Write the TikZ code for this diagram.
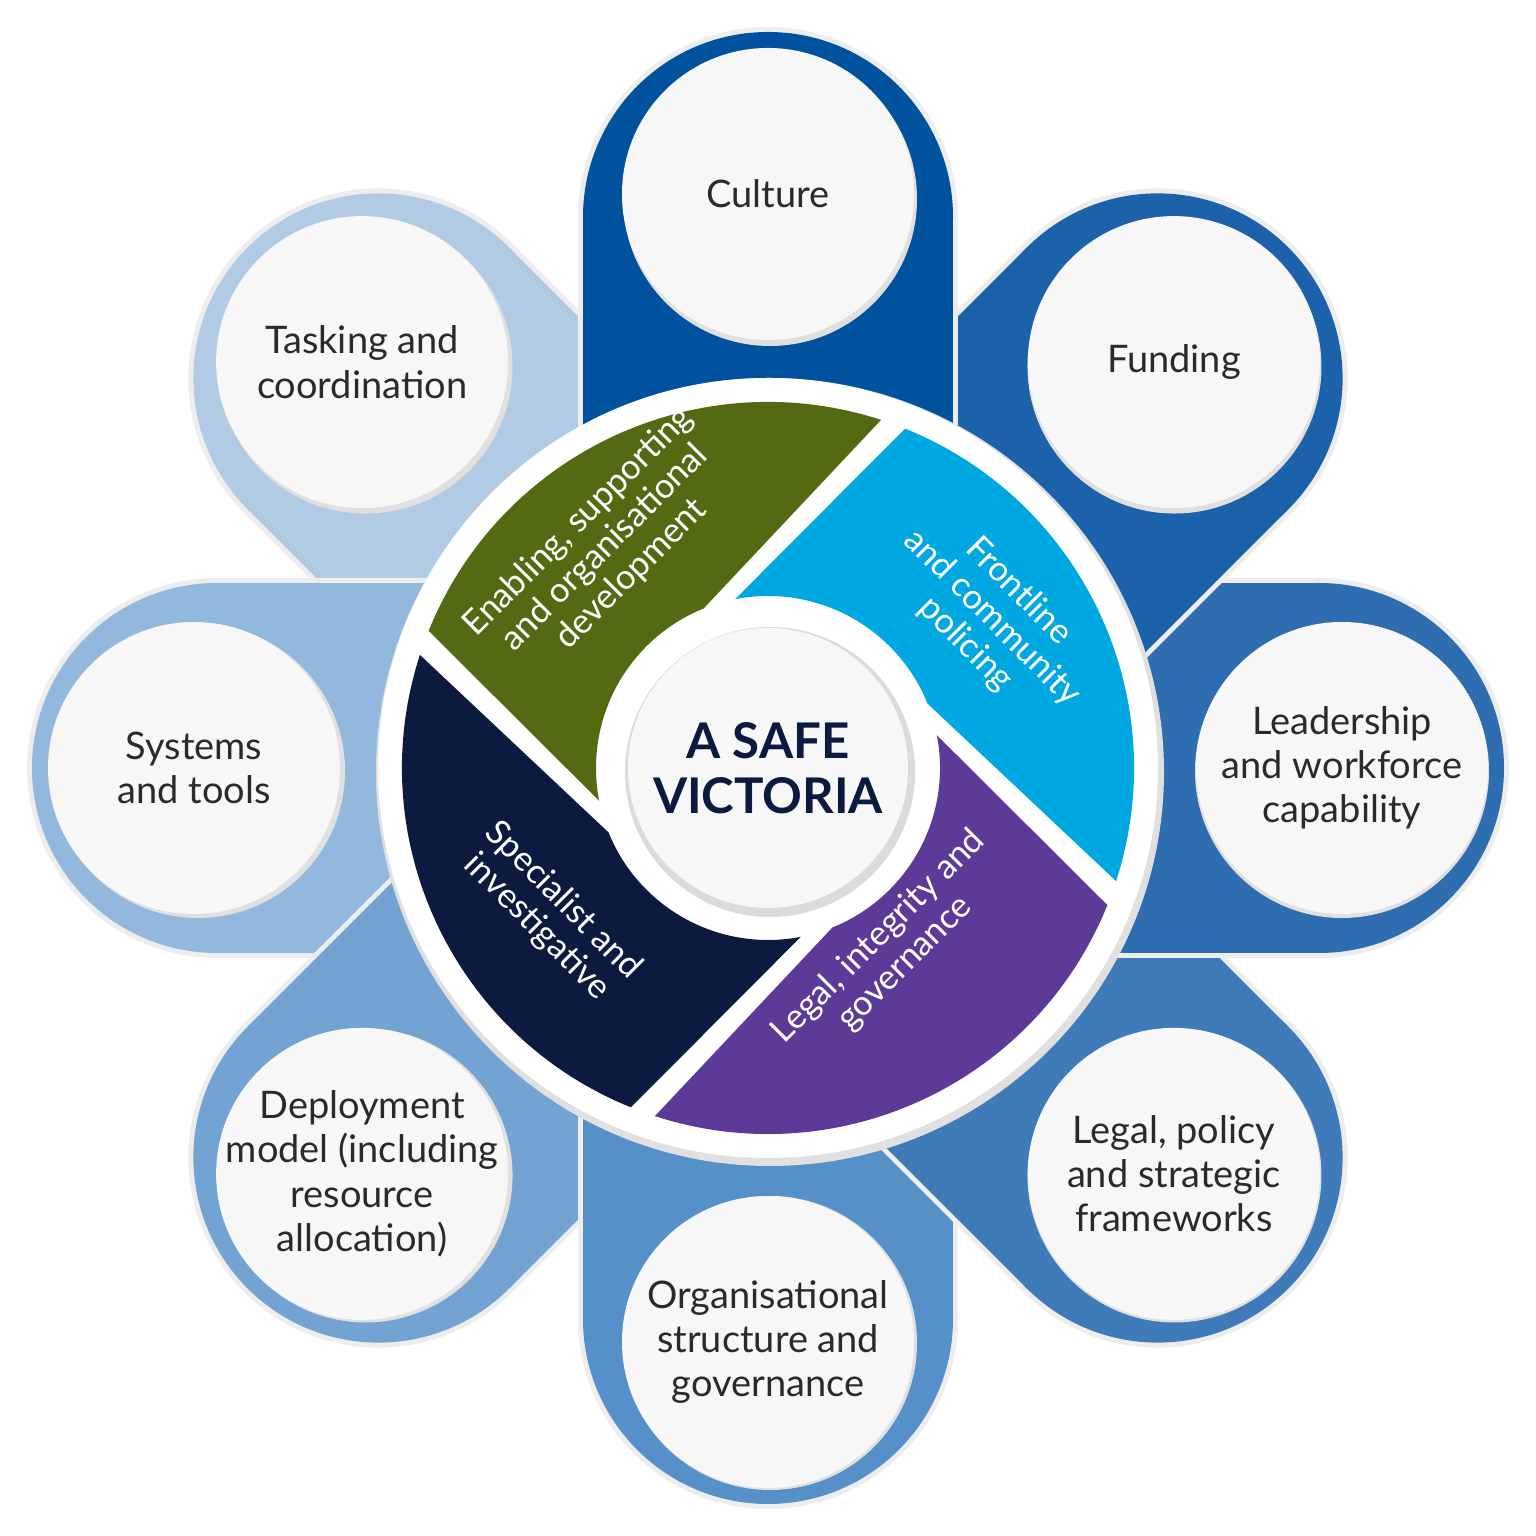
\documentclass[tikz,border=0pt]{standalone}
\usepackage{fontspec}
\setmainfont{Lato}
\definecolor{pA}{HTML}{00529F}
\definecolor{pB}{HTML}{1C62AA}
\definecolor{pC}{HTML}{2E6DB0}
\definecolor{pD}{HTML}{3F7BB8}
\definecolor{pE}{HTML}{5690C8}
\definecolor{pF}{HTML}{72A3D2}
\definecolor{pG}{HTML}{93B8DE}
\definecolor{pH}{HTML}{B2CBE5}
\definecolor{sgreen}{HTML}{546A12}
\definecolor{sblue}{HTML}{00A8E2}
\definecolor{spurple}{HTML}{5B3A98}
\definecolor{snavy}{HTML}{0C1A40}
\definecolor{txt}{HTML}{2A2A2A}
\tikzset{
  ptext/.style={font=\fontsize{10.8}{12.6}\selectfont, text=txt, align=center},
  stext/.style={font=\fontsize{9.8}{10.6}\selectfont, text=white, align=center, inner sep=0pt},
}
\newcommand{\petal}[2]{% angle, color
  \begin{scope}[shift={(7.68,7.68)}, rotate=#1]
    \fill[black!7] (0,-1.90) rectangle (5.51,1.90);
    \fill[black!7] (5.51,0) circle (1.90);
    \fill[#2] (0,-1.85) rectangle (5.51,1.85);
    \fill[#2] (5.51,0) circle (1.85);
  \end{scope}
}
\newcommand{\pcircle}[3]{% angle, name, text
  \begin{scope}[shift={(7.68,7.68)}]
    \fill[black!12] (#1:5.72) ++(0.02,-0.03) circle (1.47);
    \fill[white!97!black] (#1:5.74) circle (1.46);
    \node[ptext] (#2) at (#1:5.74) {#3};
  \end{scope}
}
\newcommand{\seg}[2]{% rotation, color
  \begin{scope}[shift={(7.68,7.68)}, rotate=#1]
    \fill[#2] (72:3.66) arc (72:158:3.66) -- (191:1.72) arc (191:112:1.72) -- cycle;
  \end{scope}
}
\begin{document}
\begin{tikzpicture}
\useasboundingbox (0,0) rectangle (15.36,15.36);
\fill[white] (0,0) rectangle (15.36,15.36);
\petal{135}{pH}
\petal{180}{pG}
\petal{225}{pF}
\petal{270}{pE}
\petal{315}{pD}
\petal{0}{pC}
\petal{45}{pB}
\petal{90}{pA}
\pcircle{90}{culture}{Culture}
\pcircle{45}{funding}{Funding}
\pcircle{0}{leader}{Leadership\\and workforce\\capability}
\pcircle{-45}{legalp}{Legal, policy\\and strategic\\frameworks}
\pcircle{-90}{orgs}{Organisational\\structure and\\governance}
\pcircle{-135}{deploy}{Deployment\\model (including\\resource\\allocation)}
\pcircle{180}{systems}{Systems\\and tools}
\pcircle{135}{tasking}{Tasking and\\coordination}
% central disc
\fill[black!12] (7.70,7.64) circle (3.94);
\fill[white] (7.68,7.68) circle (3.90);
\seg{0}{sgreen}
\seg{-90}{sblue}
\seg{-180}{spurple}
\seg{-270}{snavy}
\fill[black!14] (7.70,7.64) circle (1.45);
\fill[white!97!black] (7.68,7.68) circle (1.40);
\node[font=\fontsize{14}{15.5}\selectfont\bfseries, text=snavy, align=center] (center) at (7.68,7.68) {A SAFE\\VICTORIA};
\node[stext, rotate=45] (sg) at (6.05,9.88) {Enabling, supporting\\and organisational\\development};
\node[stext, rotate=-45] (sb) at (9.92,9.18) {Frontline\\and community\\policing};
\node[stext, rotate=45] (sp) at (8.92,5.86) {Legal, integrity and\\governance};
\node[stext, rotate=-45] (sn) at (5.50,6.22) {Specialist and\\investigative};
\end{tikzpicture}
\end{document}
